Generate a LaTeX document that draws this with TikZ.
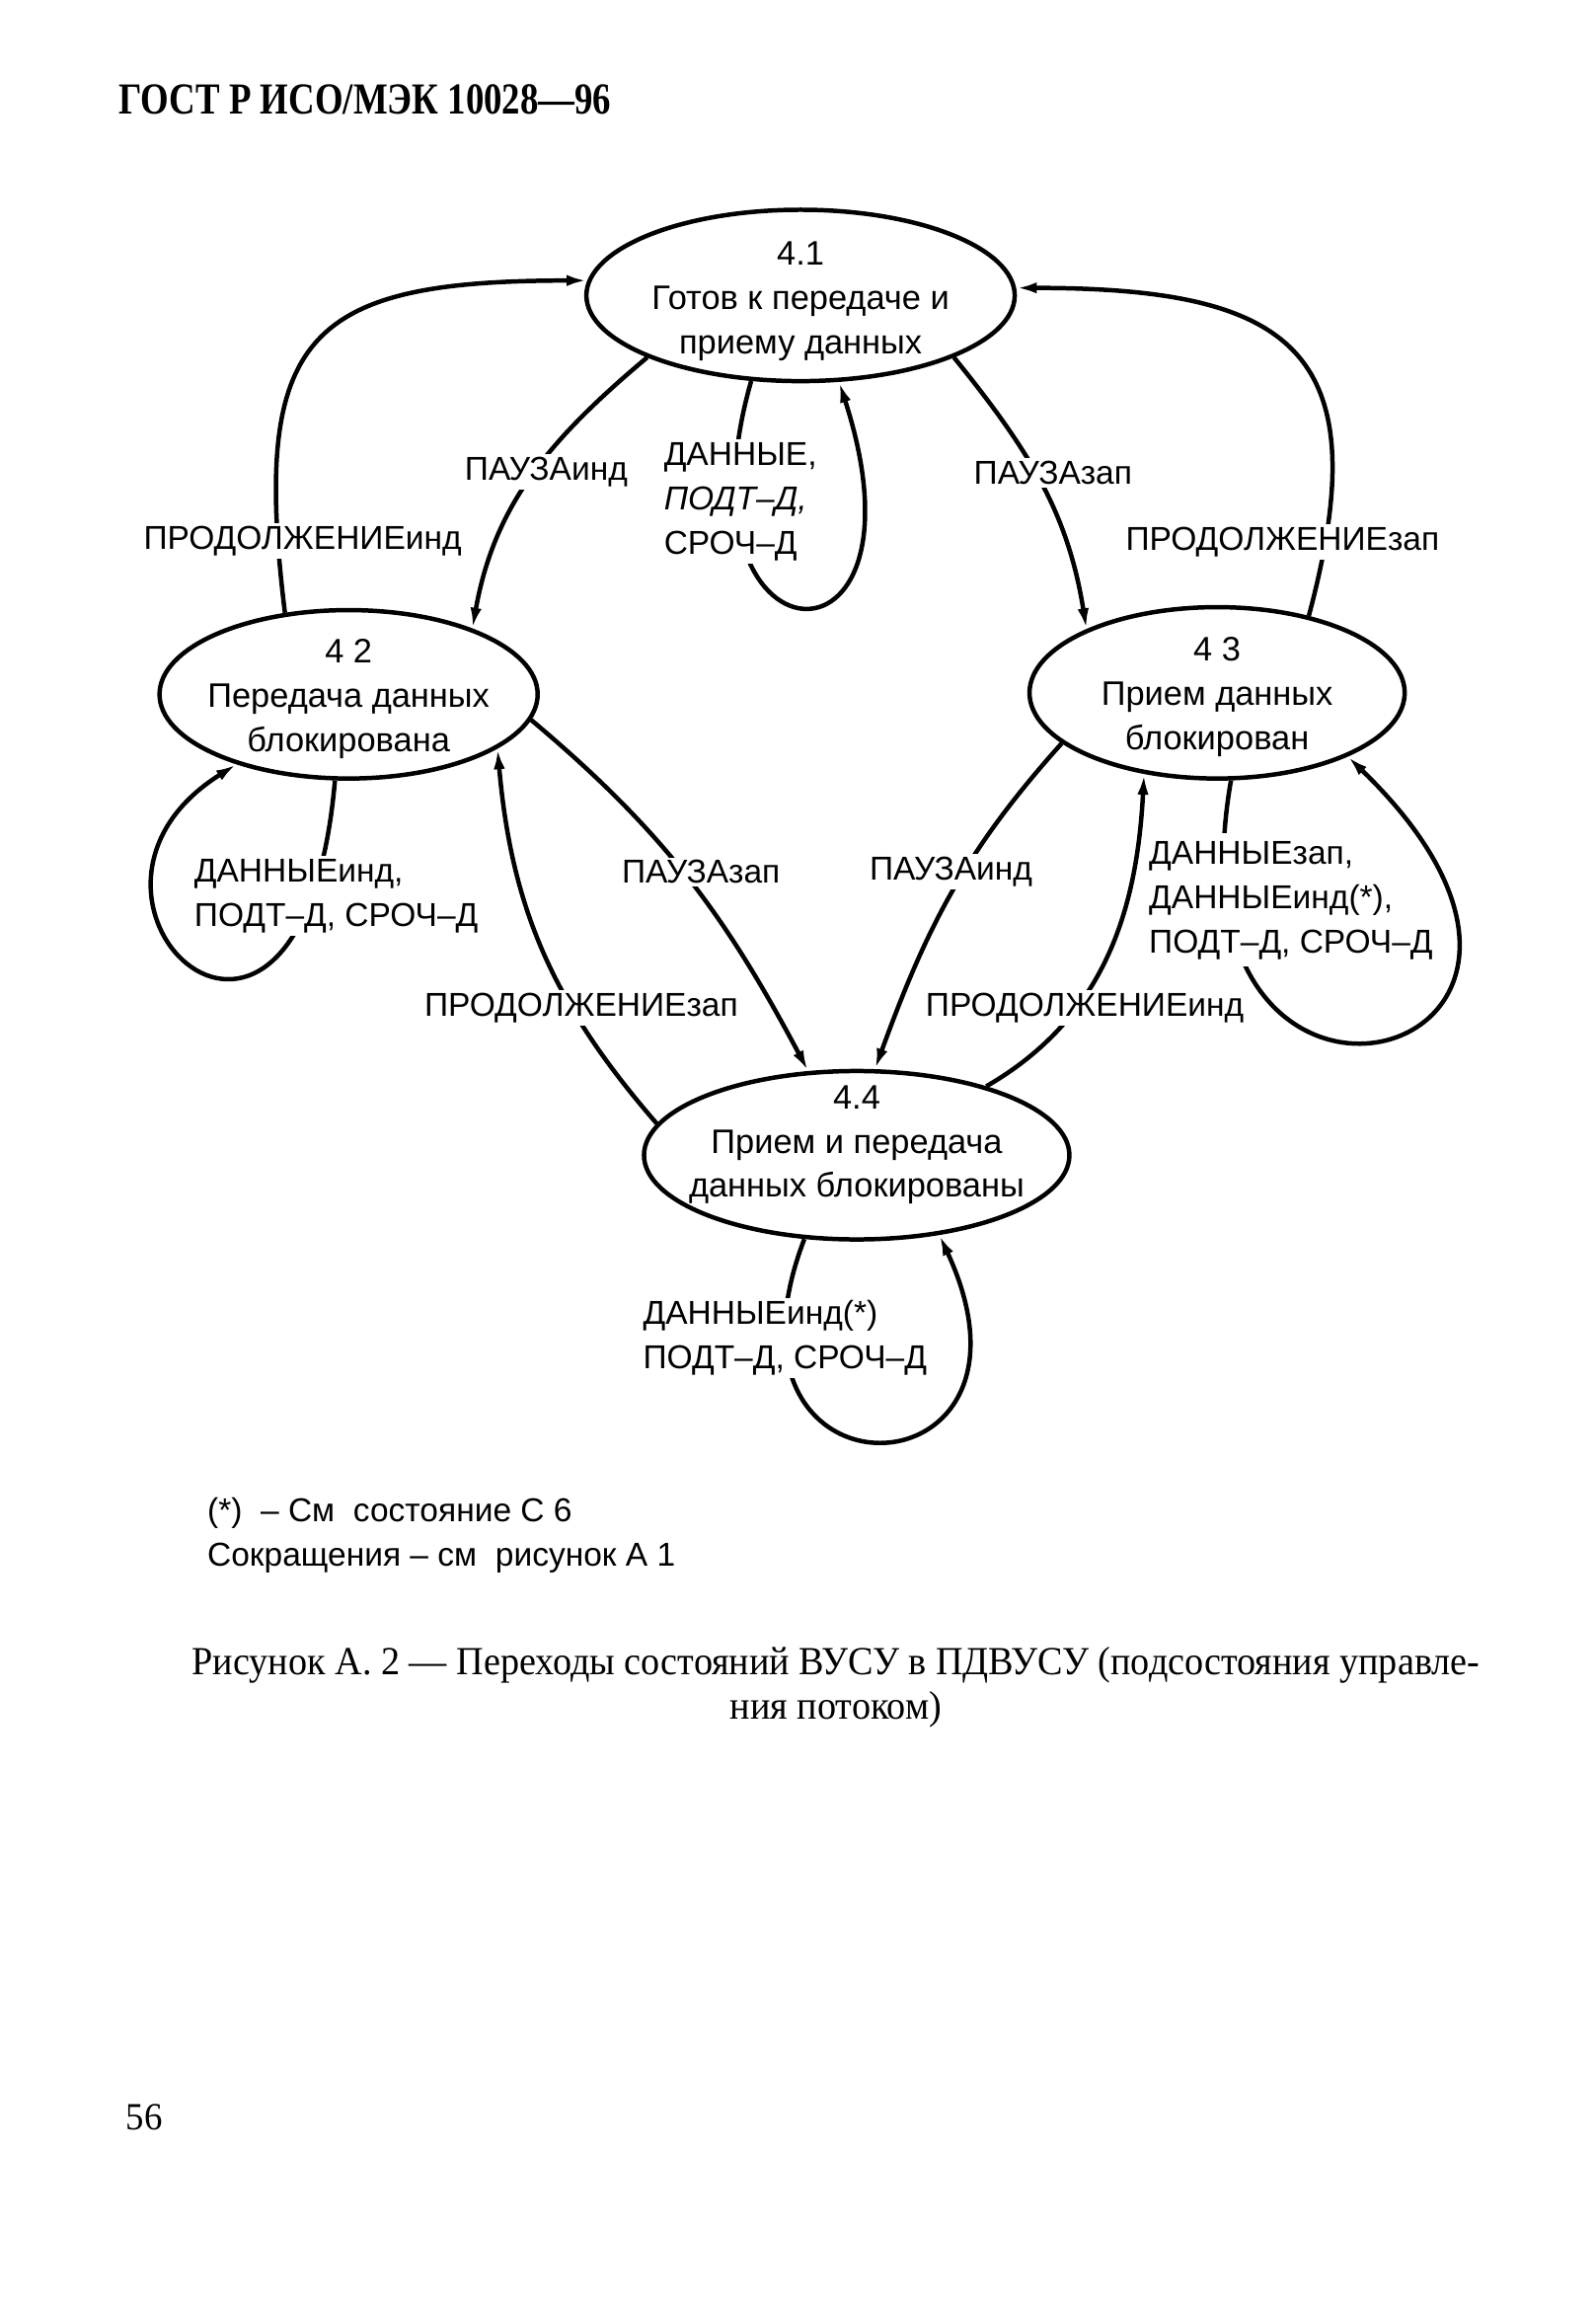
\documentclass[tikz,border=0pt]{standalone}
\usepackage{fontspec}
\setmainfont{Liberation Sans}
\newfontfamily\gostfont[FakeStretch=0.82]{Liberation Serif}
\newfontfamily\capfont[FakeStretch=0.945]{Liberation Serif}
\usetikzlibrary{shapes.geometric, positioning, arrows.meta}

% one line of a label with its own white ground
\newcommand{\wline}[1]{{\fboxsep=0pt\colorbox{white}{\strut#1}}}

\tikzset{
    state/.style = {draw, ellipse, line width=1.5pt, inner sep=0pt},
    statetext/.style = {align=center, yshift=-1.5pt,
        font=\fontsize{11.5}{15}\selectfont},
    lbl/.style = {fill=white, inner sep=1pt, align=left,
        font=\fontsize{11.2}{15}\selectfont},
    note/.style = {anchor=base west, inner sep=0pt,
        font=\fontsize{11.2}{15}\selectfont}
}

\begin{document}
\begin{tikzpicture} [x=0.5pt, y=0.5pt, on grid,
    >={Latex[length=7pt, width=3.8pt]}]

    \useasboundingbox (0,0) rectangle (1080,-1561);

    \node (gost) [anchor=base west, inner sep=0pt,
        font=\fontsize{15}{18}\gostfont\bfseries]
        at (80,-77) {ГОСТ Р ИСО/МЭК 10028—96};

    % substates of flow control
    \node (s41) [state, minimum width=145pt, minimum height=58pt,
        label={[statetext, yshift=-0.5pt]center:4.1\\Готов к передаче и\\приему данных}]
        at (542,-200) {};
    \node (s42) [state, minimum width=128pt, minimum height=57pt,
        below left = 135pt and 153pt of s41,
        label={[statetext]center:4 2\\Передача данных\\блокирована}] {};
    \node (s43) [state, minimum width=127pt, minimum height=58pt,
        below right = 134.5pt and 141pt of s41,
        label={[statetext]center:4 3\\Прием данных\\блокирован}] {};
    \node (s44) [state, minimum width=144pt, minimum height=57pt,
        below right = 291pt and 19pt of s41,
        label={[statetext, yshift=5pt]center:4.4\\Прием и передача\\данных блокированы}] {};

    \path [->, line width=1.5pt]
        (s41.202) edge [out=220, in=80] node [lbl, xshift=4.9pt, yshift=1.6pt]
            (pi1) {ПАУЗАинд} (s42.28)
        (s41.338) edge [out=309, in=99] node [lbl, xshift=4pt, yshift=3.8pt]
            (pz1) {ПАУЗАзап} (s43.154)
        (s42.128) edge [out=97, in=180, looseness=1.6]
            node [lbl, pos=0.1, xshift=8.5pt, yshift=-1.7pt]
            (ci1) {ПРОДОЛЖЕНИЕинд} (s41.176)
        (s43.40) edge [out=75, in=0, looseness=1.6]
            node [lbl, pos=0.1, xshift=-14.5pt]
            (cz1) {ПРОДОЛЖЕНИЕзап} (s41.2)
        (s42.352) edge [out=320, in=118] node [lbl, xshift=4pt, yshift=2.6pt]
            (pz2) {ПАУЗАзап} (s44.120)
        (s44.171) edge [out=131, in=275]
            node [lbl, pos=0.3, xshift=0.8pt, yshift=4pt]
            (cz2) {ПРОДОЛЖЕНИЕзап} (s42.340)
        (s43.198) edge [out=228, in=70] node [lbl, pos=0.42, xshift=-4.5pt]
            (pi2) {ПАУЗАинд} (s44.78)
        (s44.28) edge [out=30, in=267]
            node [lbl, pos=0.3, xshift=4.6pt, yshift=2.2pt]
            (ci2) {ПРОДОЛЖЕНИЕинд} (s43.228);

    % self loops
    \path [->, line width=1.5pt]
        (s41.240) edge [out=254, in=288, out distance=102.5pt, in distance=110pt]
            node [lbl, pos=0.15, xshift=1.8pt, yshift=-2.7pt]
            (dl1) {ДАННЫЕ,\\\textit{ПОДТ–Д,}\\СРОЧ–Д} (s41.294)
        (s42.261) edge [out=265, in=212, out distance=130pt, in distance=85pt]
            node [lbl, pos=0.13, xshift=8.5pt, yshift=0.9pt]
            (dl2) {ДАННЫЕинд,\\ПОДТ–Д, СРОЧ–Д} (s42.212)
        (s43.279) edge [out=260, in=316, out distance=142.5pt, in distance=150pt]
            node [lbl, fill=none, inner sep=0pt, pos=0.1, xshift=22.3pt, yshift=-3.6pt]
            (dl3) {\wline{ДАННЫЕзап,}\\\wline{ДАННЫЕинд(*),}\\\wline{ПОДТ–Д, СРОЧ–Д}}
            (s43.334)
        (s44.238) edge [out=249, in=295, out distance=100pt, in distance=100pt]
            node [lbl, pos=0.14]
            (dl4) {ДАННЫЕинд(*)\\ПОДТ–Д, СРОЧ–Д} (s44.316);

    \node (note1) [note] at (140,-1030) {(*)~ – См~ состояние С 6};
    \node (note2) [note] at (140,-1060) {Сокращения – см~ рисунок А 1};

    \node (caption) [align=center, font=\fontsize{13.5}{15}\capfont]
        at (566,-1142) {Рисунок А. 2 — Переходы состояний ВУСУ в ПДВУСУ
        (подсостояния управле-\\ния потоком)};

    \node (pageno) [anchor=base west, inner sep=0pt,
        font=\fontsize{13}{15}\capfont] at (85,-1442) {56};

\end{tikzpicture}
\end{document}
